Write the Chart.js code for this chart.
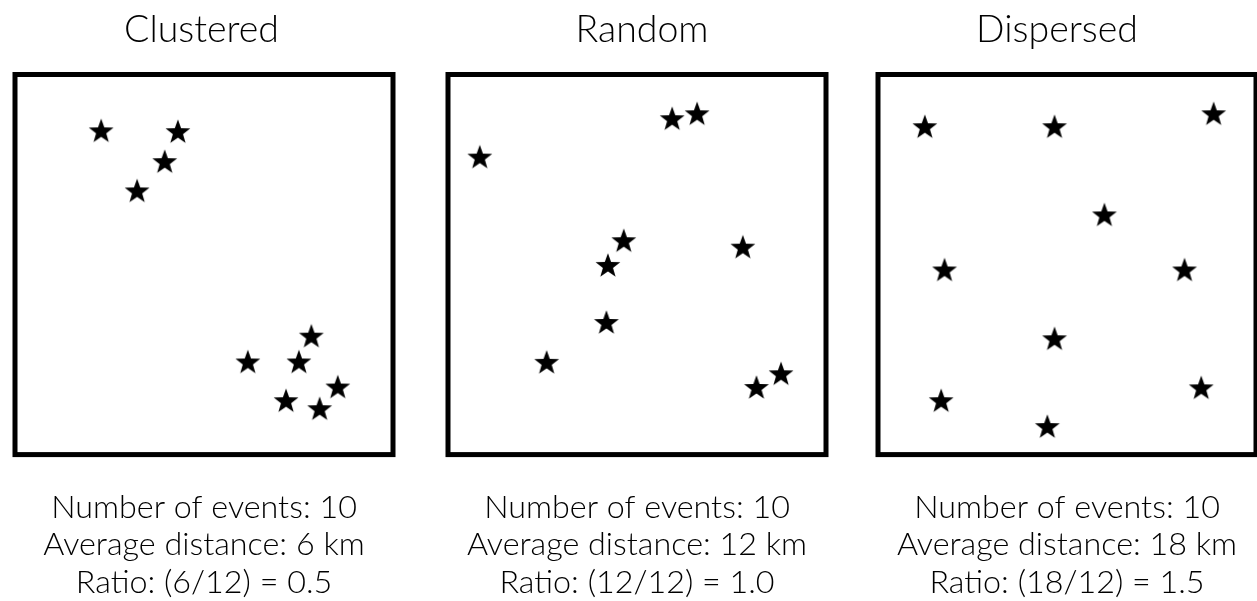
<!DOCTYPE html>
<html>
<head>
<meta charset="utf-8">
<script src="https://cdn.jsdelivr.net/npm/chart.js@4.4.1/dist/chart.umd.min.js"></script>
<style>
  html, body { margin: 0; padding: 0; background: #fff; overflow: hidden; }
  #wrap { position: relative; width: 1257px; height: 601px; }
  canvas { position: absolute; top: 0; }
</style>
</head>
<body>
<div id="wrap">
  <canvas id="clustered" width="435" height="601" style="left:-16.5px"></canvas>
  <canvas id="random" width="440" height="601" style="left:421.5px"></canvas>
  <canvas id="dispersed" width="450" height="601" style="left:831.5px"></canvas>
</div>
<script>
// point positions, in percent of the square (0 = left / bottom)
var clusteredX = [22.8, 43.1, 39.6, 32.3, 78.4, 61.6, 75.1, 85.4, 71.7, 80.6];
var clusteredY = [85.3, 85.1, 77.2, 69.5, 31.3, 24.5, 24.5, 17.9, 14.3, 12.2];

var randomX = [59.3, 65.9, 8.4, 46.5, 42.3, 78.0, 41.9, 26.1, 81.6, 88.1];
var randomY = [88.5, 89.8, 78.4, 56.4, 49.9, 54.7, 34.9, 24.4, 17.8, 21.4];

var dispersedX = [12.4, 46.7, 88.8, 59.9, 17.6, 81.1, 46.7, 16.7, 85.5, 44.8];
var dispersedY = [86.4, 86.4, 89.8, 63.2, 48.7, 48.7, 30.6, 14.3, 17.7, 7.5];

var titles = ['Clustered', 'Random', 'Dispersed'];
var eventCounts = [10, 10, 10];
var avgDistances = [6, 12, 18];
var expectedDistance = 12;
var ratios = ['0.5', '1.0', '1.5'];

var fontFamily = 'Lato, "Liberation Sans", Arial, sans-serif';

// filled five point star used as the point style
function makeStar() {
    var c = document.createElement('canvas');
    c.width = 28;
    c.height = 28;
    var g = c.getContext('2d');
    var R = 13, r = R * 0.41;
    var cx = 14, cy = 14 + 0.095 * R;
    g.beginPath();
    for (var i = 0; i < 10; i++) {
        var rad = (i % 2 === 0) ? R : r;
        var a = -Math.PI / 2 + i * Math.PI / 5;
        var px = cx + rad * Math.cos(a), py = cy + rad * Math.sin(a);
        if (i === 0) g.moveTo(px, py); else g.lineTo(px, py);
    }
    g.closePath();
    g.fillStyle = '#000';
    g.fill();
    return c;
}
var star = makeStar();

// square frame round the plot area
var framePlugin = {
    id: 'frame',
    afterDraw: function(chart) {
        var a = chart.chartArea, ctx = chart.ctx;
        ctx.save();
        ctx.strokeStyle = '#000';
        ctx.lineWidth = 5;
        ctx.strokeRect(a.left, a.top, a.right - a.left, a.bottom - a.top);
        ctx.restore();
    }
};

function toPoints(xs, ys) {
    return xs.map(function(x, i) { return { x: x, y: ys[i] }; });
}

// gutterSide/gutterWidth: empty y axis that nudges the square off the title centre
function drawPanel(id, xs, ys, idx, gutterSide, gutterWidth) {
    var ctx = document.getElementById(id).getContext('2d');
    return new Chart(ctx, {
        type: 'scatter',
        data: {
            datasets: [{
                data: toPoints(xs, ys),
                pointStyle: star,
                pointRadius: 12,
                backgroundColor: '#000',
                borderColor: '#000'
            }]
        },
        options: {
            responsive: false,
            animation: false,
            devicePixelRatio: 1,
            layout: { padding: { left: 26, right: 26, top: 0, bottom: 0 } },
            scales: {
                x: { display: false, min: 0, max: 100 },
                y: {
                    display: true,
                    position: gutterSide,
                    min: 0,
                    max: 100,
                    ticks: { display: false },
                    grid: { display: false },
                    border: { display: false },
                    afterFit: function(scale) { scale.width = gutterWidth; }
                }
            },
            plugins: {
                legend: { display: false },
                tooltip: { enabled: false },
                title: {
                    display: true,
                    text: titles[idx],
                    color: '#000',
                    font: { family: fontFamily, size: 37.5, weight: '300', lineHeight: 1.2 },
                    padding: { top: 7.5, bottom: 22 }
                },
                subtitle: {
                    display: true,
                    position: 'bottom',
                    fullSize: false,
                    text: [
                        'Number of events: ' + eventCounts[idx],
                        'Average distance: ' + avgDistances[idx] + ' km',
                        'Ratio: (' + avgDistances[idx] + '/' + expectedDistance + ') = ' + ratios[idx]
                    ],
                    color: '#000',
                    font: { family: fontFamily, size: 32.3, weight: '300', lineHeight: 1.16 },
                    padding: { top: 34, bottom: 0 }
                }
            }
        },
        plugins: [framePlugin]
    });
}

drawPanel('clustered', clusteredX, clusteredY, 0, 'left', 5);
drawPanel('random', randomX, randomY, 1, 'right', 10);
drawPanel('dispersed', dispersedX, dispersedY, 2, 'left', 20);
</script>
</body>
</html>
